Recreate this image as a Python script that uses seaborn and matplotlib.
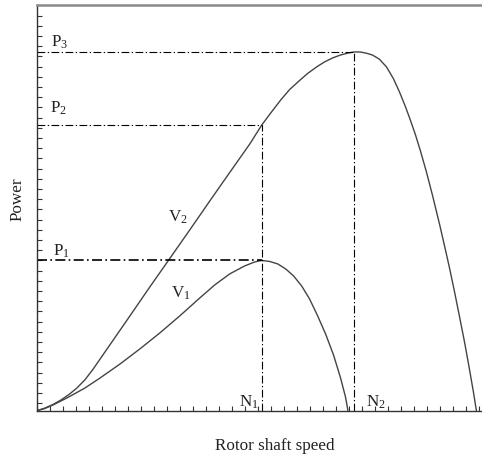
import numpy as np
import pandas as pd
import matplotlib
matplotlib.use("Agg")
import matplotlib.pyplot as plt
import seaborn as sns

# ---- data (arbitrary units) ----
v1_speed = [0.00, 0.61, 1.23, 2.30, 3.68, 4.84, 6.37, 7.90, 9.44, 10.97, 12.51,
            13.66, 14.81, 15.96, 16.73, 17.27, 17.88, 18.50, 19.11, 19.72, 20.34,
            20.95, 21.57, 22.18, 22.79, 23.33, 23.71, 23.90]
v1_power = [0.00, 0.22, 0.56, 1.25, 2.22, 3.20, 4.57, 6.05, 7.62, 9.29, 11.05,
            12.33, 13.41, 14.19, 14.58, 14.73, 14.63, 14.39, 13.90, 13.21, 12.23,
            10.95, 9.29, 7.52, 5.46, 3.21, 1.34, 0.00]

v2_speed = [0.00, 0.61, 1.23, 1.84, 2.46, 3.07, 3.68, 4.30, 4.91, 5.60, 7.14,
            8.67, 10.21, 11.74, 13.28, 14.81, 16.35, 17.27, 17.96, 18.73, 19.42,
            20.18, 20.80, 21.49, 22.10, 22.72, 23.33, 23.87, 24.40, 24.86, 25.33,
            25.79, 26.32, 26.86, 27.40, 27.86, 28.32, 28.70, 29.09, 29.47, 29.93,
            30.39, 30.93, 31.31, 31.70, 32.08, 32.46, 32.85, 33.23, 33.54, 33.77]
v2_power = [0.00, 0.26, 0.61, 1.05, 1.59, 2.23, 3.02, 4.05, 5.18, 6.45, 9.29,
            12.13, 14.93, 17.72, 20.56, 23.35, 26.14, 28.00, 29.18, 30.46, 31.49,
            32.37, 33.06, 33.70, 34.19, 34.58, 34.87, 35.05, 35.17, 35.16, 35.04,
            34.86, 34.45, 33.70, 32.53, 31.24, 29.79, 28.47, 27.03, 25.46, 23.40,
            21.14, 18.32, 16.22, 14.01, 11.71, 9.30, 6.78, 4.11, 1.83, 0.00]

N1, N2 = 17.27, 24.40
P1, P2, P3 = 14.77, 28.00, 35.17

df = pd.concat([
    pd.DataFrame({"speed": v1_speed, "power": v1_power, "curve": "V1"}),
    pd.DataFrame({"speed": v2_speed, "power": v2_power, "curve": "V2"}),
])

sns.set_theme(style="white")
plt.rcParams["font.family"] = ["Liberation Serif", "DejaVu Serif"]
plt.rcParams["mathtext.fontset"] = "custom"
plt.rcParams["mathtext.rm"] = "Liberation Serif"
plt.rcParams["mathtext.it"] = "Liberation Serif:italic"

fig = plt.figure(figsize=(4.82, 4.54), dpi=100)
ax = fig.add_axes([37 / 482, 43.3 / 454, 1 - 37 / 482, 405.7 / 454])

sns.lineplot(data=df, x="speed", y="power", units="curve", estimator=None,
             color="#444444", linewidth=1.0, ax=ax, legend=False)

dd = dict(color="black", linewidth=0.8, dashes=(7, 2.2, 1.2, 2.2))
ax.plot([0, N2], [P3, P3], **dd)
ax.plot([0, N1], [P2, P2], **dd)
ax.plot([0, N1], [P1, P1], color="black", linewidth=1.2, dashes=(6, 2, 1, 2))
ax.plot([N1, N1], [0, P2], **dd)
ax.plot([N2, N2], [0, P3], **dd)

ax.set_xlim(0, 34.2)
ax.set_ylim(0, 39.77)
ax.set_xticks(np.arange(0, 35))
ax.set_yticks(0.725 + np.arange(0, 39))
ax.set_xticklabels([])
ax.set_yticklabels([])
ax.tick_params(axis="both", direction="in", length=3.5, width=0.8,
               colors="#333333", bottom=True, left=True)
ax.set_xlabel("")
ax.set_ylabel("")

for side in ["left", "bottom"]:
    ax.spines[side].set_color("#333333")
    ax.spines[side].set_linewidth(1.0)
ax.spines["top"].set_color("#888888")
ax.spines["top"].set_linewidth(1.8)
ax.spines["right"].set_visible(False)

fs = 12.3
def px(x, y):
    return ((x - 37) / 13.03, (410.7 - y) / 10.2)

labels = [("P$_3$", 51.5, 47), ("P$_2$", 50, 113), ("P$_1$", 53, 256),
          ("V$_2$", 168, 222), ("V$_1$", 171.5, 298),
          ("N$_1$", 239, 407), ("N$_2$", 366.5, 407)]
for t, x, y in labels:
    ax.text(*px(x, y), t, fontsize=fs, color="#222222", ha="left", va="baseline")

fig.text(18 / 482, 1 - 199 / 454, "Power", rotation=90, fontsize=fs,
         ha="center", va="center", color="#222222")
fig.text(275 / 482, 1 - 450 / 454, "Rotor shaft speed", fontsize=fs,
         ha="center", va="baseline", color="#222222")

fig.savefig("out.png", dpi=100)
